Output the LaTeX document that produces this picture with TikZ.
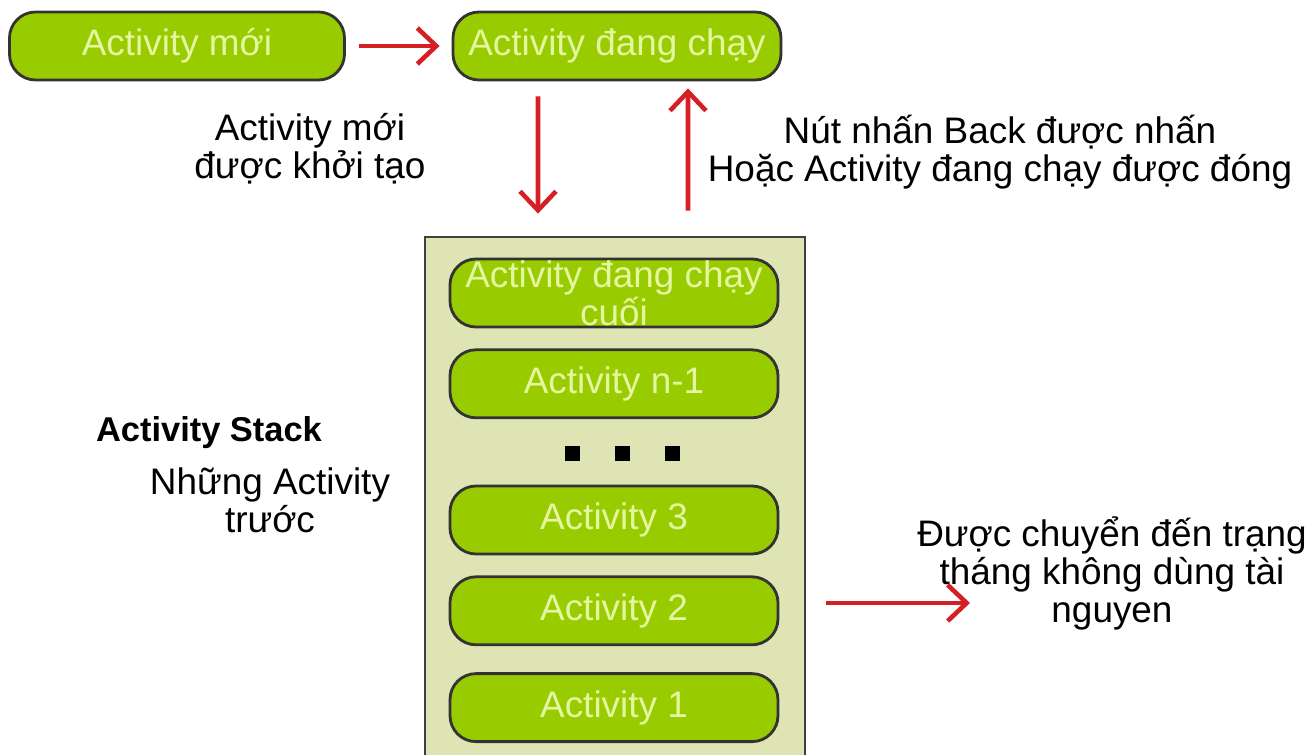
\documentclass[tikz,border=0pt]{standalone}
\usepackage{fontspec}
\setmainfont{Liberation Sans}
\usetikzlibrary{arrows.meta,positioning}
\definecolor{actgreen}{RGB}{153,204,0}
\definecolor{acttext}{RGB}{230,245,160}
\definecolor{stackbg}{RGB}{223,228,180}
\definecolor{arrowred}{RGB}{212,32,36}
\tikzset{>=Latex}

\begin{document}
\begin{tikzpicture}[x=0.1mm, y=-0.1mm, node distance=2mm,
                every node/.append style={align=center, font=\fontsize{10.5}{10.8}\selectfont},
                act/.style={draw=black!80, thick, fill=actgreen, rounded corners=2.6mm,
                            minimum width=32.8mm, minimum height=6.8mm, inner sep=0pt, text=acttext},
                dotsq/.style={fill=black, minimum size=1.5mm, inner sep=0pt},
                redarrow/.style={draw=arrowred, line width=1.3pt,
                            -{Straight Barb[length=1.9mm, width=3.6mm]}}]

\useasboundingbox (0,0) rectangle (1311,755);

\node[act, minimum width=33.5mm] (new) at (177,46) {Activity mới};
\node[act] (run) at (617,46) {Activity đang chạy};

\node[draw=black!75, thick, fill=stackbg, minimum width=38mm, minimum height=52.4mm,
      inner sep=0pt] (stack) at (615,499) {};

\node[act] (last) at (614,293) {Activity đang chạy\\cuối};
\node[act, below=of last] (n1) {Activity n-1};
\foreach \x in {572,622,672}
    \node[dotsq] (dot\x) at (\x,453) {};
\node[act] (a3) at (614,520) {Activity 3};
\node[act, below=of a3] (a2) {Activity 2};
\node[act, below=2.6mm of a2] (a1) {Activity 1};

% labels
\node (startlbl) at (310,149) {Activity mới\\được khởi tạo};
\node (backlbl) at (1000,152) {Nút nhấn Back được nhấn\\Hoặc Activity đang chạy được đóng};
\node[font=\fontsize{9.8}{10.8}\selectfont\bfseries] (stacklbl) at (209,433) {Activity Stack};
\node (prevlbl) at (270,500) {Những Activity\\trước};
\node (gonelbl) at (1112,573) {Được chuyển đến trạng\\tháng không dùng tài\\nguyen};

\coordinate (goneend) at (970,603);

\draw[redarrow, shorten <=1.3mm, shorten >=1.2mm] (new) -- (run);
\draw[redarrow, shorten <=1.5mm, shorten >=2.2mm]
    ([xshift=-7.9mm]run.south) -- ([xshift=-7.7mm]stack.north);
\draw[redarrow, shorten <=2.5mm, shorten >=0.7mm]
    ([xshift=7.3mm]stack.north) -- ([xshift=7.1mm]run.south);
\draw[redarrow, shorten <=2mm] (goneend -| stack.east) -- (goneend);

\end{tikzpicture}
\end{document}
